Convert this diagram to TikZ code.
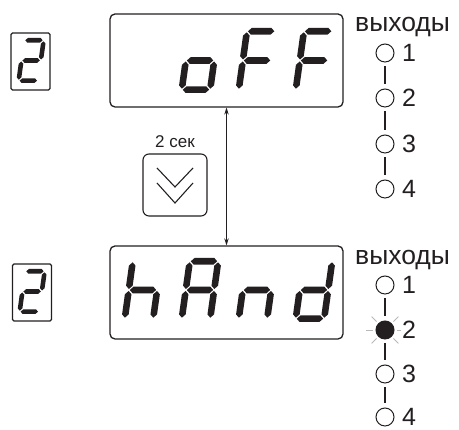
\documentclass[tikz,border=0pt]{standalone}
\usepackage{fontspec}
\setmainfont{Liberation Sans}
\usetikzlibrary{arrows.meta}
\definecolor{ink}{HTML}{231F20}
\newcommand\hseg[1]{(\dt/2+\dg,#1) -- (\dt+\dg,#1+\dt/2) -- (\dW-\dt-\dg,#1+\dt/2) -- (\dW-\dt/2-\dg,#1) -- (\dW-\dt-\dg,#1-\dt/2) -- (\dt+\dg,#1-\dt/2) -- cycle}
\newcommand\vseg[3]{(#1,#2) -- (#1+\dt/2,#2+\dt/2) -- (#1+\dt/2,#3-\dt/2) -- (#1,#3) -- (#1-\dt/2,#3-\dt/2) -- (#1-\dt/2,#2+\dt/2) -- cycle}
\newcommand\ssega{\hseg{\dH-\dt/2}}
\newcommand\ssegb{\vseg{\dW-\dt/2}{\dH/2+\dg}{\dH-\dt/2-\dg}}
\newcommand\ssegc{\vseg{\dW-\dt/2}{\dt/2+\dg}{\dH/2-\dg}}
\newcommand\ssegd{\hseg{\dt/2}}
\newcommand\ssege{\vseg{\dt/2}{\dt/2+\dg}{\dH/2-\dg}}
\newcommand\ssegf{\vseg{\dt/2}{\dH/2+\dg}{\dH-\dt/2-\dg}}
\newcommand\ssegg{\hseg{\dH/2}}
\newcommand\sdigit[6]{%
  \begin{scope}[shift={(#1,#2)},xslant=0.14,fill=ink]
    \def\dW{#3}\def\dH{#4}\def\dt{#5}\def\dg{1}%
    \foreach \sname in {#6}{\expandafter\fill\csname sseg\sname\endcsname;}
  \end{scope}}
\begin{document}
\begin{tikzpicture}[x=1pt,y=1pt,
  disp/.style={draw=ink,line width=1.3pt,rounded corners=5pt,minimum width=233pt,minimum height=93pt,inner sep=0pt},
  smallbox/.style={draw=ink,line width=1.1pt,rounded corners=1.5pt,minimum width=39pt,minimum height=57pt,inner sep=0pt},
  btnbox/.style={draw=ink,line width=1.1pt,rounded corners=6pt,minimum width=64pt,minimum height=62pt,inner sep=0pt},
  led/.style={circle,draw=ink,line width=1pt,minimum size=18pt,inner sep=0pt},
  ledon/.style={led,fill=ink},
  link/.style={draw=ink,line width=1.1pt,shorten >=4pt,shorten <=4pt},
  glow/.style={draw=black!28,line width=0.8pt},
  chev/.style={draw=ink,line width=1.1pt},
  lab/.style={font=\fontsize{26.5}{30}\selectfont,inner sep=0pt,text=ink},
  numlab/.style={font=\fontsize{25}{30}\selectfont,inner sep=0pt,text=ink},
  smalllab/.style={font=\fontsize{17}{20}\selectfont,inner sep=0pt,text=ink},
  dblarrow/.style={draw=ink,line width=1pt,{Stealth[length=7pt,width=4.5pt]}-{Stealth[length=7pt,width=4.5pt]}}]
\useasboundingbox (0,0) rectangle (459,430);
% displays
\node[disp] (disp1) at (226.5,369.5) {};
\node[disp] (disp2) at (226.5,137.5) {};
\node[smallbox] (chan1) at (30.5,368.5) {};
\node[smallbox] (chan2) at (32,137.5) {};
% small digits
\sdigit{16}{347}{24}{45}{4.6}{a,b,g,e,d}
\sdigit{17}{116}{24}{45}{4.6}{a,b,g,e,d}
% top display: oFF
\sdigit{178}{337}{35}{65}{6.6}{c,d,e,g}
\sdigit{235}{337}{35}{65}{6.6}{a,f,e,g}
\sdigit{292}{337}{35}{65}{6.6}{a,f,e,g}
% bottom display: hAnd
\sdigit{121}{108}{35}{64}{6.6}{f,e,g,c}
\sdigit{178}{108}{35}{64}{6.6}{a,b,c,e,f,g}
\sdigit{235}{108}{35}{64}{6.6}{e,g,c}
\sdigit{292}{108}{35}{64}{6.6}{b,c,d,e,g}
% arrow
\draw[dblarrow] (disp1.south) -- (disp2.north);
% button
\node[btnbox] (btn) at (175,245) {};
\node[smalllab,anchor=base] (btnlab) at (175,282) {2 сек};
\draw[chev] (btn.center) ++(-18,17) -- ++(18,-19) -- ++(18,19);
\draw[chev] (btn.center) ++(-18,2) -- ++(18,-20) -- ++(18,20);
% outputs top
\node[lab,anchor=base west] (out1) at (355,398) {выходы};
\node[led] (t1) at (385,377) {};
\node[led] (t2) at (385,332) {};
\node[led] (t3) at (385,286) {};
\node[led] (t4) at (385,241) {};
\draw[link] (t1) -- (t2);
\draw[link] (t2) -- (t3);
\draw[link] (t3) -- (t4);
\node[numlab,anchor=west] (tn1) at (402,377) {1};
\node[numlab,anchor=west] (tn2) at (402,332) {2};
\node[numlab,anchor=west] (tn3) at (402,286) {3};
\node[numlab,anchor=west] (tn4) at (402,241) {4};
% outputs bottom
\node[lab,anchor=base west] (out2) at (355,165) {выходы};
\node[led] (b1) at (385,145) {};
\node[ledon] (b2) at (385,100) {};
\node[led] (b3) at (385,56) {};
\node[led] (b4) at (385,13) {};
\draw[link] (b1) -- (b2);
\draw[link] (b2) -- (b3);
\draw[link] (b3) -- (b4);
\foreach \a in {45,135,180,225,315}{\draw[glow] (b2.center) ++(\a:12) -- ++(\a:7);}
\draw[glow] (b2.center) ++(0:12) -- ++(0:4);
\node[numlab,anchor=west] (bn1) at (402,145) {1};
\node[numlab,anchor=west] (bn2) at (402,100) {2};
\node[numlab,anchor=west] (bn3) at (402,56) {3};
\node[numlab,anchor=west] (bn4) at (402,13) {4};
\end{tikzpicture}
\end{document}
